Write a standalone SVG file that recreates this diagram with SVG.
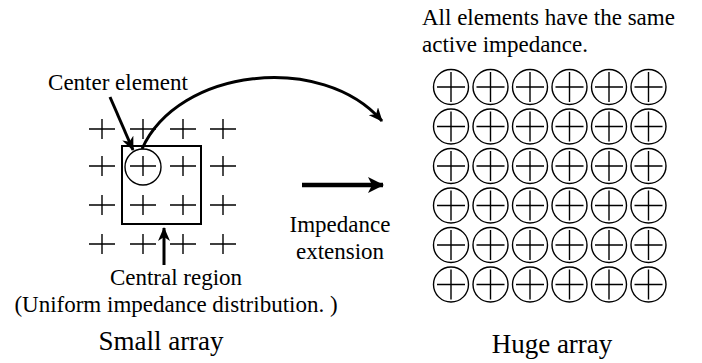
<svg xmlns="http://www.w3.org/2000/svg" width="702" height="363" viewBox="0 0 702 363">
<style>
.lbl{font-size:23px}
.ttl{font-size:27px}
.x{stroke:#000;stroke-width:1.4;fill:none}
.c{stroke:#000;stroke-width:1.4;fill:none}
.conn{stroke:#000;fill:none}
</style>
<defs>
<marker id="ah" viewBox="0 0 14 12" refX="13" refY="6" markerWidth="14" markerHeight="12" markerUnits="userSpaceOnUse" orient="auto">
<path d="M0,0 L14,6 L0,12 L4,6 z" fill="#000"/>
</marker>
<marker id="ahb" viewBox="0 0 16 16" refX="15" refY="8" markerWidth="16" markerHeight="16" markerUnits="userSpaceOnUse" orient="auto">
<path d="M0,0 L16,8 L0,16 L4,8 z" fill="#000"/>
</marker>
<g id="sx"><path class="x" d="M-13,0H13M0,-10V10"/></g>
<g id="hc"><circle class="c" r="17.5"/><path class="x" d="M-14,0H14M0,-15V15"/></g>
</defs>

<g id="small-array">
<use href="#sx" x="102" y="129"/><use href="#sx" x="143" y="129"/><use href="#sx" x="183" y="129"/><use href="#sx" x="223" y="129"/>
<use href="#sx" x="102" y="166"/><use href="#sx" x="143" y="166"/><use href="#sx" x="183" y="166"/><use href="#sx" x="223" y="166"/>
<use href="#sx" x="102" y="205"/><use href="#sx" x="143" y="205"/><use href="#sx" x="183" y="205"/><use href="#sx" x="223" y="205"/>
<use href="#sx" x="102" y="244"/><use href="#sx" x="143" y="244"/><use href="#sx" x="183" y="244"/><use href="#sx" x="223" y="244"/>
</g>

<g font-family="Liberation Serif, Tinos, Times New Roman, serif" fill="#000">
<g id="central-region">
<rect x="122" y="146" width="79" height="78" fill="none" stroke="#000" stroke-width="2"/>
<text class="lbl" x="176" y="285" text-anchor="middle">Central region</text>
<text class="lbl" x="176" y="312" text-anchor="middle">(Uniform impedance distribution. )</text>
</g>

<g id="center-element">
<circle class="c" cx="143" cy="167" r="18"/>
<text class="lbl" x="118" y="90" text-anchor="middle">Center element</text>
</g>

<g id="small-title"><text class="ttl" x="161" y="350" text-anchor="middle">Small array</text></g>

<g id="huge-note">
<text class="lbl" x="422" y="25">All elements have the same</text>
<text class="lbl" x="422" y="52">active impedance.</text>
</g>

<g id="huge-title"><text class="ttl" x="552" y="353" text-anchor="middle">Huge array</text></g>

<g id="extension-label">
<text class="lbl" x="340" y="232" text-anchor="middle">Impedance</text>
<text class="lbl" x="340" y="259" text-anchor="middle">extension</text>
</g>
</g>

<g id="huge-array">
<use href="#hc" x="451" y="87"/><use href="#hc" x="490.5" y="87"/><use href="#hc" x="530" y="87"/><use href="#hc" x="569.5" y="87"/><use href="#hc" x="609" y="87"/><use href="#hc" x="648.5" y="87"/>
<use href="#hc" x="451" y="126.5"/><use href="#hc" x="490.5" y="126.5"/><use href="#hc" x="530" y="126.5"/><use href="#hc" x="569.5" y="126.5"/><use href="#hc" x="609" y="126.5"/><use href="#hc" x="648.5" y="126.5"/>
<use href="#hc" x="451" y="166"/><use href="#hc" x="490.5" y="166"/><use href="#hc" x="530" y="166"/><use href="#hc" x="569.5" y="166"/><use href="#hc" x="609" y="166"/><use href="#hc" x="648.5" y="166"/>
<use href="#hc" x="451" y="205.5"/><use href="#hc" x="490.5" y="205.5"/><use href="#hc" x="530" y="205.5"/><use href="#hc" x="569.5" y="205.5"/><use href="#hc" x="609" y="205.5"/><use href="#hc" x="648.5" y="205.5"/>
<use href="#hc" x="451" y="245"/><use href="#hc" x="490.5" y="245"/><use href="#hc" x="530" y="245"/><use href="#hc" x="569.5" y="245"/><use href="#hc" x="609" y="245"/><use href="#hc" x="648.5" y="245"/>
<use href="#hc" x="451" y="284.5"/><use href="#hc" x="490.5" y="284.5"/><use href="#hc" x="530" y="284.5"/><use href="#hc" x="569.5" y="284.5"/><use href="#hc" x="609" y="284.5"/><use href="#hc" x="648.5" y="284.5"/>
</g>

<g id="connectors">
<path class="conn" stroke-width="3" d="M110,97 L133,150" marker-end="url(#ah)"/>
<path class="conn" stroke-width="3" d="M164,265 L164,228" marker-end="url(#ah)"/>
<path class="conn" stroke-width="3" d="M142,149 C178,68 322,52 382,121" marker-end="url(#ah)"/>
<path class="conn" stroke-width="4.5" d="M302,185 L383,185" marker-end="url(#ahb)"/>
</g>
</svg>
